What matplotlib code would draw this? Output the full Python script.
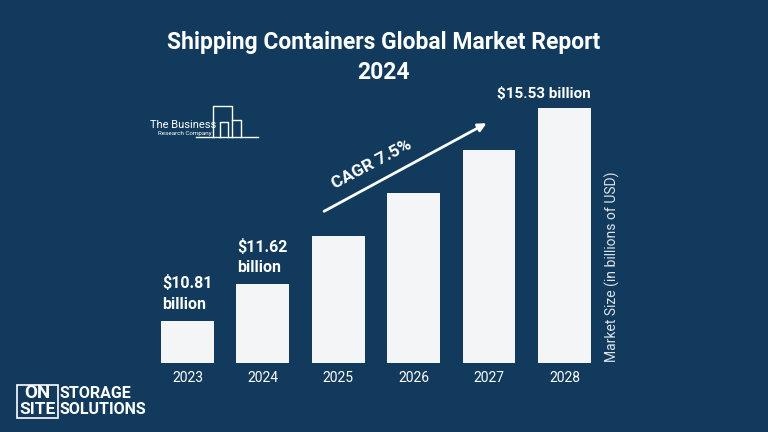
import matplotlib.pyplot as plt
from matplotlib.patches import Rectangle

years = ['2023', '2024', '2025', '2026', '2027', '2028']
market_size = [10.81, 11.62, 12.70, 13.65, 14.60, 15.53]
value_labels = ['$10.81\nbillion', '$11.62\nbillion', '', '', '', '$15.53 billion']

bg = '#113a5c'
bar_color = '#f4f5f6'

plt.rcParams['font.family'] = ['Roboto', 'DejaVu Sans']

fig = plt.figure(figsize=(7.68, 4.32), dpi=100, facecolor=bg)
ax = fig.add_axes([0.195, 0.16, 0.589, 0.609])
ax.set_facecolor(bg)

x = range(len(years))
ax.bar(x, market_size, width=0.70, color=bar_color)
ax.set_xlim(-0.5, 5.5)
ax.set_ylim(9.88, 15.71)
ax.set_xticks(list(x))
ax.set_xticklabels(years, color='white', fontsize=10)
ax.tick_params(axis='x', length=0, pad=6)
ax.set_yticks([])
for s in ax.spines.values():
    s.set_visible(False)

# value labels
for i, (v, lab) in enumerate(zip(market_size, value_labels)):
    if not lab:
        continue
    if '\n' in lab:
        ax.text(i - 0.34, v + 0.2, lab, ha='left', va='bottom', color='white',
                fontsize=11.5, fontweight='bold', linespacing=1.45)
    else:
        ax.text(i + 0.35, v + 0.15, lab, ha='right', va='bottom', color='white',
                fontsize=11, fontweight='bold')

fig.text(612 / 768, 1 - 267 / 432, 'Market Size (in billions of USD)', rotation=90,
         color='#dde4ea', fontsize=10, ha='center', va='center')

# CAGR arrow
ax.annotate('', xy=(4.0, 15.22), xytext=(1.78, 13.21),
            arrowprops=dict(arrowstyle='-|>', color='white', lw=2, mutation_scale=12))
ax.text(2.45, 14.27, 'CAGR 7.5%', rotation=28, color='white', fontsize=12.5,
        fontweight='bold', ha='center', va='center')

# title
fig.text(0.5, 1 - 57.5 / 432, 'Shipping Containers Global Market Report\n2024', ha='center',
         va='center', color='white', fontsize=16.5, fontweight='bold', linespacing=1.35)

# The Business Research Company logo
fig.text(150 / 768, 1 - 125 / 432, 'The Business', color='white', fontsize=8,
         ha='left', va='center')
fig.text(158 / 768, 1 - 133.5 / 432, 'Research Company', color='white', fontsize=4.5,
         ha='left', va='center')
logo_lines = [
    ([213, 213, 232, 232], [137, 106, 106, 137]),
    ([220, 220, 228, 228], [137, 122, 122, 137]),
    ([232, 241, 241], [120, 120, 137]),
    ([196, 258], [137, 137]),
]
for xs, ys in logo_lines:
    fig.add_artist(plt.Line2D([v / 768 for v in xs], [1 - v / 432 for v in ys],
                              color='white', lw=1))

# OnSite Storage Solutions logo
fig.add_artist(Rectangle((17 / 768, 1 - 418 / 432), 41 / 768, 33 / 432,
                         fill=False, edgecolor='white', lw=1.2))
fig.text(37.5 / 768, 1 - 393.5 / 432, 'ON', color='white', fontsize=13.5,
         fontweight='bold', ha='center', va='center')
fig.text(37.5 / 768, 1 - 410 / 432, 'SITE', color='white', fontsize=12.5,
         fontweight='bold', ha='center', va='center')
fig.text(60 / 768, 1 - 393.5 / 432, 'STORAGE', color='white', fontsize=11.5,
         fontweight='bold', ha='left', va='center')
fig.text(60 / 768, 1 - 410 / 432, 'SOLUTIONS', color='white', fontsize=11.5,
         fontweight='bold', ha='left', va='center')

fig.savefig('out.png', dpi=100, facecolor=bg)
